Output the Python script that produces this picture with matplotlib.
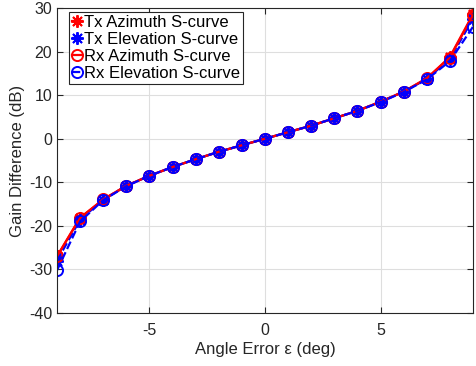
import numpy as np
import matplotlib.pyplot as plt

plt.rcParams['font.family'] = ['Liberation Sans', 'DejaVu Sans']
plt.rcParams['axes.unicode_minus'] = False

# Data
angle = [-9, -8, -7, -6, -5, -4, -3, -2, -1, 0, 1, 2, 3, 4, 5, 6, 7, 8, 9]
tx_az = [-27.0, -18.1, -14.0, -10.8, -8.5, -6.5, -4.7, -3.0, -1.5, 0.0,
         1.5, 3.0, 4.7, 6.4, 8.5, 10.8, 13.8, 18.8, 28.6]
tx_el = [-28.0, -18.6, -14.0, -10.8, -8.5, -6.5, -4.7, -3.0, -1.5, 0.0,
         1.5, 3.0, 4.7, 6.4, 8.5, 10.8, 13.7, 18.3, 27.5]
rx_az = [-27.0, -18.2, -13.9, -10.8, -8.5, -6.5, -4.7, -3.0, -1.5, 0.0,
         1.5, 3.0, 4.7, 6.4, 8.5, 10.8, 13.9, 18.6, 28.4]
rx_el = [-30.2, -19.0, -14.1, -10.9, -8.5, -6.5, -4.7, -3.0, -1.5, 0.0,
         1.5, 3.0, 4.7, 6.4, 8.4, 10.7, 13.6, 17.8, 25.7]

labels = ['Tx Azimuth S-curve', 'Tx Elevation S-curve',
          'Rx Azimuth S-curve', 'Rx Elevation S-curve']

fig = plt.figure(figsize=(4.76, 3.66), dpi=100)
ax = fig.add_axes([57 / 476, 1 - 313 / 366, 416 / 476, 305 / 366])

asterisk = (8, 2, 0)
ax.plot(angle, tx_az, color='red', ls='-', lw=1.6, marker=asterisk, ms=9, mew=1.4, label=labels[0])
ax.plot(angle, tx_el, color='blue', ls='--', lw=1.6, marker=asterisk, ms=9, mew=1.4, label=labels[1])
ax.plot(angle, rx_az, color='red', ls='-', lw=1.6, marker='o', ms=8, mfc='none', mew=1.4, label=labels[2])
ax.plot(angle, rx_el, color='blue', ls='--', lw=1.6, marker='o', ms=8, mfc='none', mew=1.4, label=labels[3])

ax.set_xlim(-9, 9)
ax.set_ylim(-40, 30)
ax.set_xticks([-5, 0, 5])
ax.set_yticks(np.arange(-40, 31, 10))
ax.grid(True, color='0.87', lw=0.8)
ax.set_axisbelow(True)
ax.tick_params(direction='in', top=True, right=True, labelsize=11.5, colors='0.15', length=4)
ax.tick_params(axis='x', pad=7)
for s in ax.spines.values():
    s.set_color('0.15')
    s.set_linewidth(0.8)

ax.set_xlabel('Angle Error ε (deg)', fontsize=12, color='0.15', labelpad=3)
ax.set_ylabel('Gain Difference (dB)', fontsize=12, color='0.15', labelpad=3)

leg = ax.legend(loc='upper left', bbox_to_anchor=(0.029, 0.988), borderaxespad=0,
                fontsize=12, handlelength=0.6, handletextpad=0.1,
                borderpad=0.2, labelspacing=0.12, fancybox=False, framealpha=1,
                edgecolor='0.15')
leg.get_frame().set_linewidth(0.8)

fig.savefig('out.png', dpi=100)
